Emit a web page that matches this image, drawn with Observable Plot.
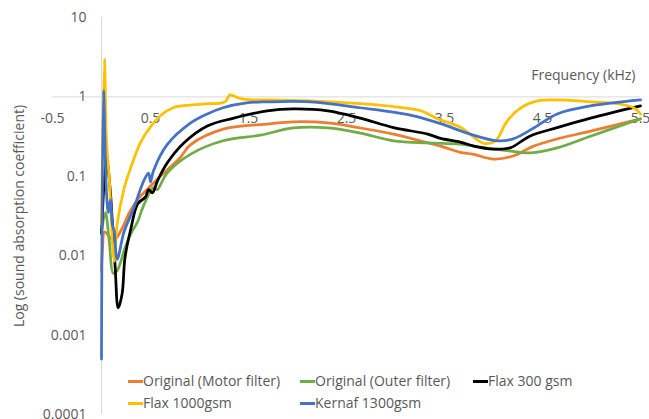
<!DOCTYPE html>
<html><head><meta charset="utf-8">
<script src="https://cdn.jsdelivr.net/npm/d3@7"></script>
<script src="https://cdn.jsdelivr.net/npm/@observablehq/plot@0.6"></script>
<style>
body{margin:0;background:#fff;}
#wrap{position:relative;width:649px;height:419px;font-family:"Open Sans",sans-serif;color:#595959;overflow:hidden;}
#legend{position:absolute;left:128px;top:370px;display:grid;grid-template-columns:172px 173px auto;font-size:14px;line-height:22px;}
.item{display:flex;align-items:center;white-space:nowrap;}
.sw{display:inline-block;width:15px;height:3px;}
</style></head><body><div id="wrap"></div>
<script>
// Series names and colours
const seriesNames = ["Original (Motor filter)", "Original (Outer filter)", "Flax 300 gsm", "Flax 1000gsm", "Kernaf 1300gsm"];
const seriesColors = ["#ED7D31", "#70AD47", "#000000", "#FFC000", "#4472C4"];

// Frequency (kHz) / absorption coefficient
const motorF = [0, 0.01, 0.03, 0.07, 0.11, 0.15, 0.21, 0.28, 0.38, 0.48, 0.6, 0.8, 0.91, 1.25, 1.71, 1.96, 2.31, 2.64, 2.98, 3.33, 3.46, 3.66, 3.79, 4.0, 4.2, 4.41, 4.65, 4.99, 5.5];
const motorV = [0.0065, 0.012, 0.02, 0.018, 0.016, 0.0166, 0.022, 0.034, 0.053, 0.071, 0.1, 0.17, 0.25, 0.395, 0.457, 0.485, 0.47, 0.406, 0.34, 0.263, 0.24, 0.2, 0.19, 0.165, 0.18, 0.24, 0.296, 0.37, 0.53];

const outerF = [0, 0.04, 0.08, 0.12, 0.16, 0.24, 0.30, 0.37, 0.42, 0.53, 0.57, 0.62, 0.67, 0.91, 1.24, 1.62, 1.96, 2.31, 2.64, 2.98, 3.33, 3.66, 3.8, 4.14, 4.38, 4.65, 4.99, 5.5];
const outerV = [0.02, 0.035, 0.015, 0.006, 0.0065, 0.0125, 0.019, 0.027, 0.04, 0.072, 0.068, 0.087, 0.11, 0.19, 0.28, 0.33, 0.406, 0.406, 0.35, 0.28, 0.263, 0.255, 0.24, 0.21, 0.197, 0.228, 0.32, 0.53];

const flax300F = [0, 0.05, 0.09, 0.11, 0.14, 0.17, 0.21, 0.24, 0.30, 0.37, 0.45, 0.48, 0.52, 0.57, 0.67, 0.84, 1.08, 1.35, 1.69, 1.96, 2.31, 2.64, 2.98, 3.33, 3.46, 3.66, 3.8, 4.0, 4.17, 4.37, 4.65, 4.99, 5.5];
const flax300V = [0.019, 0.17, 0.065, 0.027, 0.007, 0.0022, 0.0033, 0.0095, 0.022, 0.045, 0.055, 0.068, 0.062, 0.087, 0.147, 0.263, 0.43, 0.54, 0.666, 0.705, 0.666, 0.54, 0.41, 0.34, 0.30, 0.27, 0.24, 0.22, 0.228, 0.32, 0.41, 0.54, 0.77];

const flax1000F = [0, 0.03, 0.05, 0.08, 0.13, 0.16, 0.23, 0.30, 0.40, 0.5, 0.6, 0.73, 0.9, 1.08, 1.23, 1.27, 1.31, 1.37, 1.42, 1.55, 1.70, 2.13, 2.64, 3.0, 3.26, 3.43, 3.67, 3.90, 4.02, 4.14, 4.28, 4.45, 4.65, 5.0, 5.27, 5.43, 5.5];
const flax1000V = [0.025, 3.0, 0.3, 0.09, 0.0085, 0.025, 0.07, 0.13, 0.27, 0.42, 0.58, 0.73, 0.79, 0.82, 0.84, 0.89, 1.06, 1.0, 0.95, 0.917, 0.917, 0.89, 0.82, 0.75, 0.67, 0.53, 0.41, 0.26, 0.28, 0.5, 0.73, 0.89, 0.917, 0.865, 0.82, 0.73, 0.61];

const kernafF = [0, 0.02, 0.05, 0.07, 0.09, 0.11, 0.13, 0.16, 0.23, 0.33, 0.43, 0.48, 0.50, 0.53, 0.67, 0.91, 1.08, 1.24, 1.48, 1.69, 2.13, 2.64, 3.15, 3.46, 3.76, 4.04, 4.2, 4.41, 4.65, 4.99, 5.5];
const kernafV = [0.0005, 1.2, 0.065, 0.035, 0.05, 0.025, 0.02, 0.009, 0.02, 0.04, 0.087, 0.11, 0.085, 0.117, 0.25, 0.47, 0.61, 0.73, 0.84, 0.865, 0.865, 0.73, 0.59, 0.46, 0.34, 0.28, 0.296, 0.406, 0.61, 0.77, 0.917];

// Axis ticks
const xTicks = [-0.5, 0.5, 1.5, 2.5, 3.5, 4.5, 5.5];
const yTicks = [0.0001, 0.001, 0.01, 0.1, 1, 10];
const xTitle = "Frequency (kHz)";
const yTitle = "Log (sound absorption coefficient)";
const axisCrossY = 1;   // x axis crosses at y = 1
const axisCrossX = 0;   // y axis crosses at x = 0

const allF = [motorF, outerF, flax300F, flax1000F, kernafF];
const allV = [motorV, outerV, flax300V, flax1000V, kernafV];
const rows = [];
seriesNames.forEach((name, i) => {
  allF[i].forEach((f, j) => rows.push({series: name, f, v: allV[i][j]}));
});

const textColor = "#595959";
const font = "'Open Sans', sans-serif";

const chart = Plot.plot({
  width: 649, height: 419,
  marginLeft: 52, marginRight: 9, marginTop: 17, marginBottom: 5,
  style: {fontFamily: font, background: "#fff", overflow: "visible"},
  x: {domain: [-0.5, 5.5], axis: null},
  y: {type: "log", domain: [1e-4, 10], axis: null},
  color: {domain: seriesNames, range: seriesColors},
  marks: [
    Plot.ruleY([axisCrossY], {stroke: "#d9d9d9", strokeWidth: 1}),
    Plot.ruleX([axisCrossX], {stroke: "#d9d9d9", strokeWidth: 1}),
    Plot.text(xTicks, {x: d => d, y: () => axisCrossY, text: d => String(d), dy: 22, fill: textColor, fontSize: 14}),
    Plot.text(yTicks, {x: () => axisCrossX, y: d => d, text: d => String(d), dx: -15, textAnchor: "end", fill: textColor, fontSize: 14}),
    Plot.line(rows, {x: "f", y: "v", z: "series", stroke: "series", strokeWidth: 2.75, curve: "catmull-rom"}),
    Plot.text([xTitle], {frameAnchor: "top-right", textAnchor: "end", lineAnchor: "middle", dx: -5, dy: 58, fill: textColor, fontSize: 14}),
    Plot.text([yTitle], {frameAnchor: "left", rotate: -90, textAnchor: "middle", lineAnchor: "middle", dx: -33, fill: textColor, fontSize: 14})
  ]
});

const wrap = document.getElementById("wrap");
wrap.appendChild(chart);
const legend = document.createElement("div");
legend.id = "legend";
seriesNames.forEach((name, i) => {
  const item = document.createElement("div");
  item.className = "item";
  const sw = document.createElement("span");
  sw.className = "sw";
  sw.style.background = seriesColors[i];
  item.appendChild(sw);
  item.appendChild(document.createTextNode(name));
  legend.appendChild(item);
});
wrap.appendChild(legend);
</script></body></html>
